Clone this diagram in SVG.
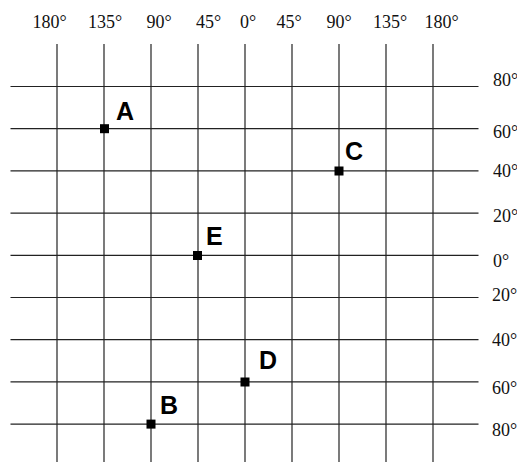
<svg xmlns="http://www.w3.org/2000/svg" width="517" height="462" viewBox="0 0 517 462">
  <style>
    .grid line { stroke: #222; stroke-width: 1.2; }
    .deg { font-family: "Liberation Serif", "Times New Roman", serif; font-size: 18px; fill: #111; }
    .top { text-anchor: middle; }
    .pt rect { fill: #000; }
    .pt text { font-family: "Liberation Sans", Arial, sans-serif; font-weight: bold; font-size: 25px; fill: #000; }
  </style>
  <rect width="517" height="462" fill="#fff"/>
  <g id="connectors" class="grid">
    <line x1="57" y1="44" x2="57" y2="462"/>
    <line x1="104" y1="44" x2="104" y2="462"/>
    <line x1="151" y1="44" x2="151" y2="462"/>
    <line x1="198" y1="44" x2="198" y2="462"/>
    <line x1="245" y1="44" x2="245" y2="462"/>
    <line x1="292" y1="44" x2="292" y2="462"/>
    <line x1="339" y1="44" x2="339" y2="462"/>
    <line x1="386" y1="44" x2="386" y2="462"/>
    <line x1="433" y1="44" x2="433" y2="462"/>
    <line x1="10.5" y1="86.5" x2="478.5" y2="86.5"/>
    <line x1="10.5" y1="128.7" x2="478.5" y2="128.7"/>
    <line x1="10.5" y1="170.9" x2="478.5" y2="170.9"/>
    <line x1="10.5" y1="213.1" x2="478.5" y2="213.1"/>
    <line x1="10.5" y1="255.3" x2="478.5" y2="255.3"/>
    <line x1="10.5" y1="297.5" x2="478.5" y2="297.5"/>
    <line x1="10.5" y1="339.7" x2="478.5" y2="339.7"/>
    <line x1="10.5" y1="381.9" x2="478.5" y2="381.9"/>
    <line x1="10.5" y1="424.1" x2="478.5" y2="424.1"/>
  </g>
  <g id="longitude-labels" class="deg top">
    <text x="49.5" y="28">180°</text>
    <text x="105" y="28">135°</text>
    <text x="159" y="28">90°</text>
    <text x="208.5" y="28">45°</text>
    <text x="248" y="28">0°</text>
    <text x="289" y="28">45°</text>
    <text x="339" y="28">90°</text>
    <text x="390" y="28">135°</text>
    <text x="441.5" y="28">180°</text>
  </g>
  <g id="latitude-labels" class="deg">
    <text x="493" y="86">80°</text>
    <text x="493" y="138">60°</text>
    <text x="493" y="177">40°</text>
    <text x="493" y="222">20°</text>
    <text x="493" y="267">0°</text>
    <text x="492" y="301">20°</text>
    <text x="492" y="346">40°</text>
    <text x="492" y="394">60°</text>
    <text x="492" y="436">80°</text>
  </g>
  <g id="A" class="pt">
    <rect x="100" y="124.2" width="9" height="9"/>
    <text x="116" y="120">A</text>
  </g>
  <g id="C" class="pt">
    <rect x="334.5" y="166.5" width="9" height="9"/>
    <text x="345" y="160">C</text>
  </g>
  <g id="E" class="pt">
    <rect x="193" y="251" width="9" height="9"/>
    <text x="206" y="245">E</text>
  </g>
  <g id="D" class="pt">
    <rect x="240.5" y="377.5" width="9" height="9"/>
    <text x="259" y="369">D</text>
  </g>
  <g id="B" class="pt">
    <rect x="146.5" y="419.6" width="9" height="9"/>
    <text x="160" y="414">B</text>
  </g>
</svg>
